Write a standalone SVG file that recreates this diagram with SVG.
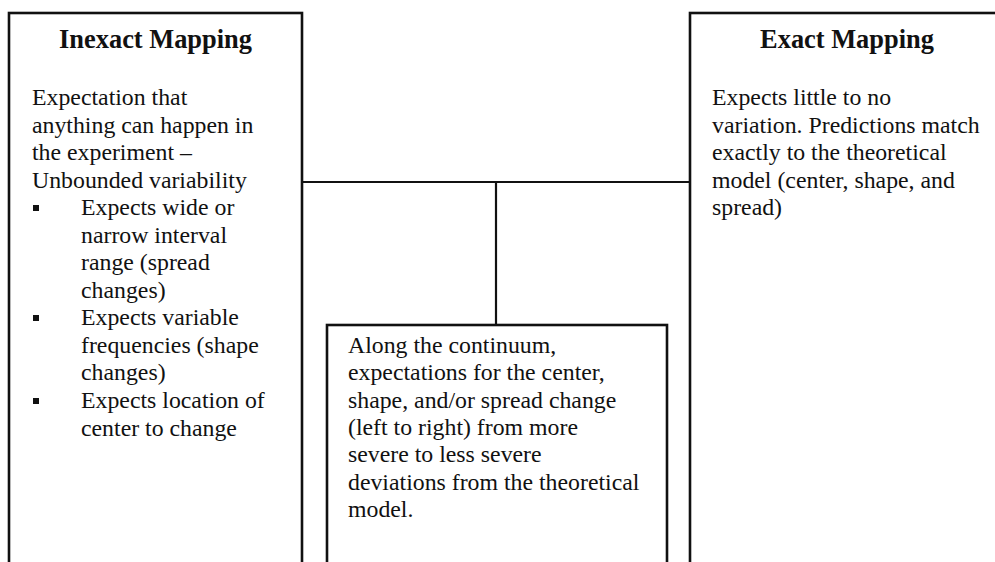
<svg xmlns="http://www.w3.org/2000/svg" width="995" height="562" viewBox="0 0 995 562">
<style>
.box{fill:#fff;stroke:#111;stroke-width:2.6}
.con{stroke:#111;stroke-width:2.2;fill:none}
.t{font-family:"Liberation Serif","Times New Roman",serif;font-size:23.8px;fill:#111}
.h{font-family:"Liberation Serif","Times New Roman",serif;font-size:26.4px;font-weight:bold;fill:#111;text-anchor:middle}
.b{fill:#111}
</style>
<rect width="995" height="562" fill="#fff"/>
<g id="connectors">
<line class="con" x1="302" y1="182" x2="690" y2="182"/>
<line class="con" x1="496" y1="182" x2="496" y2="325"/>
</g>
<g id="inexact">
<rect class="box" x="9" y="13" width="293" height="565"/>
<text class="h" x="155.5" y="48">Inexact Mapping</text>
<text class="t" x="32" y="105.2">Expectation that</text>
<text class="t" x="32" y="132.7">anything can happen in</text>
<text class="t" x="32" y="160.2">the experiment –</text>
<text class="t" x="32" y="187.7">Unbounded variability</text>
<rect class="b" x="33" y="205" width="6" height="6"/>
<text class="t" x="81" y="215.2">Expects wide or</text>
<text class="t" x="81" y="242.7">narrow interval</text>
<text class="t" x="81" y="270.2">range (spread</text>
<text class="t" x="81" y="297.7">changes)</text>
<rect class="b" x="33" y="315" width="6" height="6"/>
<text class="t" x="81" y="325.2">Expects variable</text>
<text class="t" x="81" y="352.7">frequencies (shape</text>
<text class="t" x="81" y="380.2">changes)</text>
<rect class="b" x="33" y="398" width="6" height="6"/>
<text class="t" x="81" y="407.7">Expects location of</text>
<text class="t" x="81" y="435.5">center to change</text>
</g>
<g id="exact">
<rect class="box" x="690" y="13" width="330" height="565"/>
<text class="h" x="847" y="48">Exact Mapping</text>
<text class="t" x="712" y="105.2">Expects little to no</text>
<text class="t" x="712" y="132.7">variation. Predictions match</text>
<text class="t" x="712" y="160.2">exactly to the theoretical</text>
<text class="t" x="712" y="187.7">model (center, shape, and</text>
<text class="t" x="712" y="215.2">spread)</text>
</g>
<g id="continuum">
<rect class="box" x="327" y="325" width="340" height="253"/>
<text class="t" x="348" y="352.5">Along the continuum,</text>
<text class="t" x="348" y="380">expectations for the center,</text>
<text class="t" x="348" y="407.5">shape, and/or spread change</text>
<text class="t" x="348" y="435">(left to right) from more</text>
<text class="t" x="348" y="462">severe to less severe</text>
<text class="t" x="348" y="489.5">deviations from the theoretical</text>
<text class="t" x="348" y="517">model.</text>
</g>
</svg>
